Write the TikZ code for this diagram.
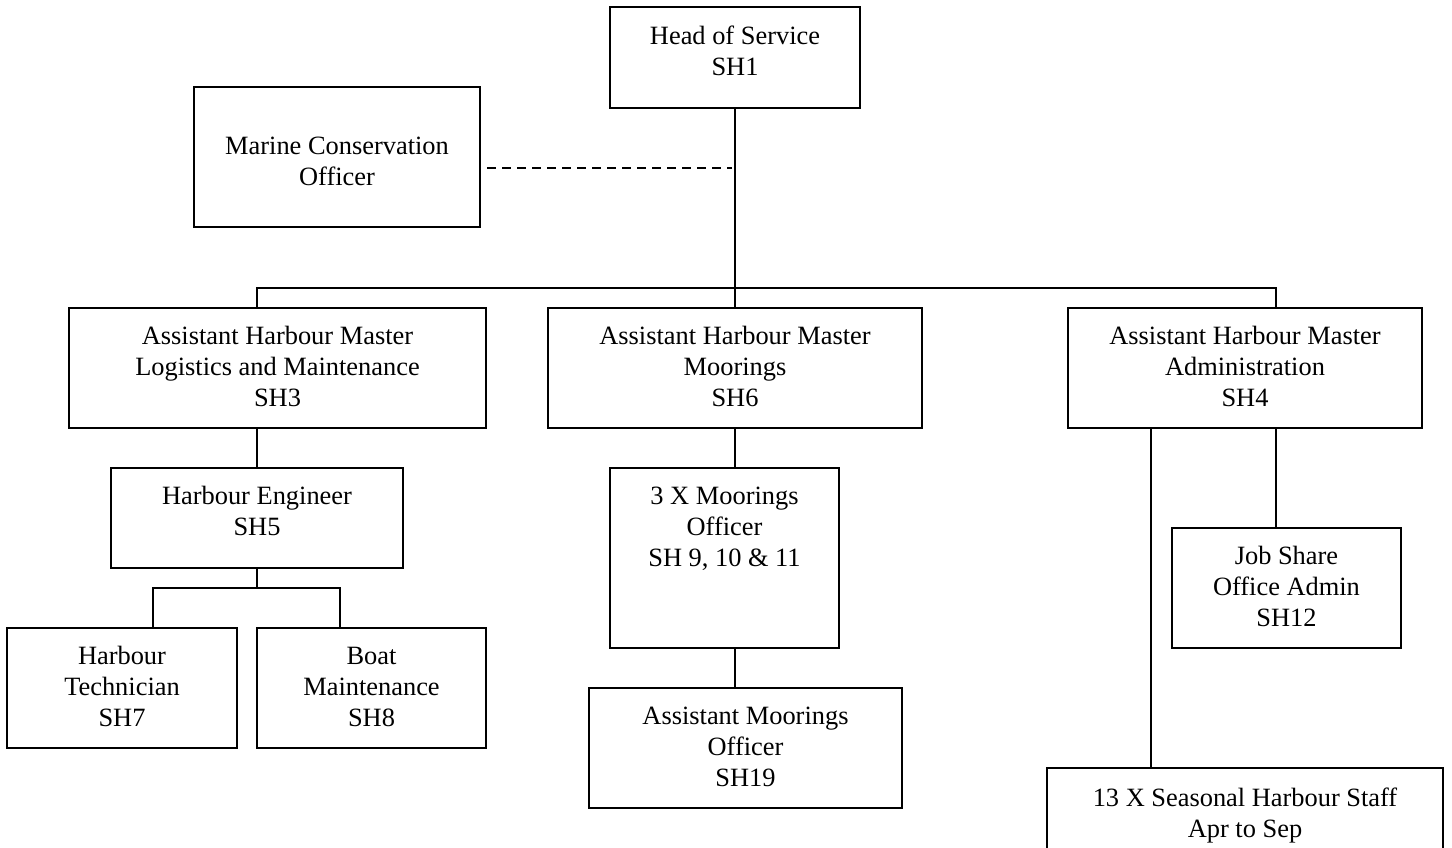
\documentclass[tikz,border=0pt]{standalone}
\usepackage{fontspec}
\setmainfont{Liberation Serif}
\usetikzlibrary{fit,calc}
\begin{document}
\begin{tikzpicture}[x=0.5pt,y=-0.5pt,
  box/.style={draw,line width=1pt,inner sep=0pt},
  txt/.style={font=\fontsize{13.2}{15.5}\selectfont,align=center,inner sep=0pt,anchor=north},
  link/.style={line width=1pt},
  dashlink/.style={line width=1pt,dash pattern=on 4.5pt off 3pt}]
\useasboundingbox (0,0) rectangle (1452,847);
\clip (0,0) rectangle (1452,847);
\fill[white] (0,0) rectangle (1452,847);

% boxes
\node[box,fit={(610,7)(860,108)}] (head) {};
\node[box,fit={(194,87)(480,227)}] (mco) {};
\node[box,fit={(69,308)(486,428)}] (log) {};
\node[box,fit={(548,308)(922,428)}] (moor) {};
\node[box,fit={(1068,308)(1422,428)}] (adm) {};
\node[box,fit={(111,468)(403,568)}] (he) {};
\node[box,fit={(7,628)(237,748)}] (tech) {};
\node[box,fit={(257,628)(486,748)}] (boat) {};
\node[box,fit={(610,468)(839,648)}] (three) {};
\node[box,fit={(589,688)(902,808)}] (amo) {};
\node[box,fit={(1172,528)(1401,648)}] (js) {};
\node[box,fit={(1047,768)(1443,880)}] (seas) {};

% texts
\node[txt] (head-t) at ($(head.north)+(0,16.3)$) {\strut Head of Service\\SH1};
\node[txt] (mco-t) at ($(mco.north)+(0,46.3)$) {\strut Marine Conservation\\Officer};
\node[txt] (log-t) at ($(log.north)+(0,15.3)$) {\strut Assistant Harbour Master\\Logistics and Maintenance\\SH3};
\node[txt] (moor-t) at ($(moor.north)+(0,15.3)$) {\strut Assistant Harbour Master\\Moorings\\SH6};
\node[txt] (adm-t) at ($(adm.north)+(0,15.3)$) {\strut Assistant Harbour Master\\Administration\\SH4};
\node[txt] (he-t) at ($(he.north)+(0,15.3)$) {\strut Harbour Engineer\\SH5};
\node[txt] (tech-t) at ($(tech.north)+(0,15.3)$) {\strut Harbour\\Technician\\SH7};
\node[txt] (boat-t) at ($(boat.north)+(0,15.3)$) {\strut Boat\\Maintenance\\SH8};
\node[txt] (three-t) at ($(three.north)+(0,15.3)$) {\strut 3 X Moorings\\Officer\\SH 9, 10 \& 11};
\node[txt] (amo-t) at ($(amo.north)+(0,15.3)$) {\strut Assistant Moorings\\Officer\\SH19};
\node[txt] (js-t) at ($(js.north)+(0,15.3)$) {\strut Job Share\\Office Admin\\SH12};
\node[txt] (seas-t) at ($(seas.north)+(0,17.3)$) {\strut 13 X Seasonal Harbour Staff\\Apr to Sep};

% helper coordinates
\coordinate (busL) at (257,288);
\coordinate (busR) at (1276,288);
\coordinate (bus2L) at (153,588);
\coordinate (bus2R) at (340,588);
\coordinate (dashR) at (732,168);
\coordinate (seasX) at (1151,0);

% connectors
\draw[link] (head.south) -- (moor.north);
\draw[dashlink] ([xshift=3pt]mco.east |- dashR) -- (dashR);
\draw[link] (busL |- log.north) -- (busL) -- (busR) -- (busR |- adm.north);
\draw[link] (he.north |- log.south) -- (he.north);
\draw[link] (he.south) -- (he.south |- bus2L);
\draw[link] (bus2L |- tech.north) -- (bus2L) -- (bus2R) -- (bus2R |- boat.north);
\draw[link] (moor.south) -- (moor.south |- three.north);
\draw[link] (moor.south |- three.south) -- (moor.south |- amo.north);
\draw[link] (busR |- adm.south) -- (busR |- js.north);
\draw[link] (seasX |- adm.south) -- (seasX |- seas.north);
\end{tikzpicture}
\end{document}
